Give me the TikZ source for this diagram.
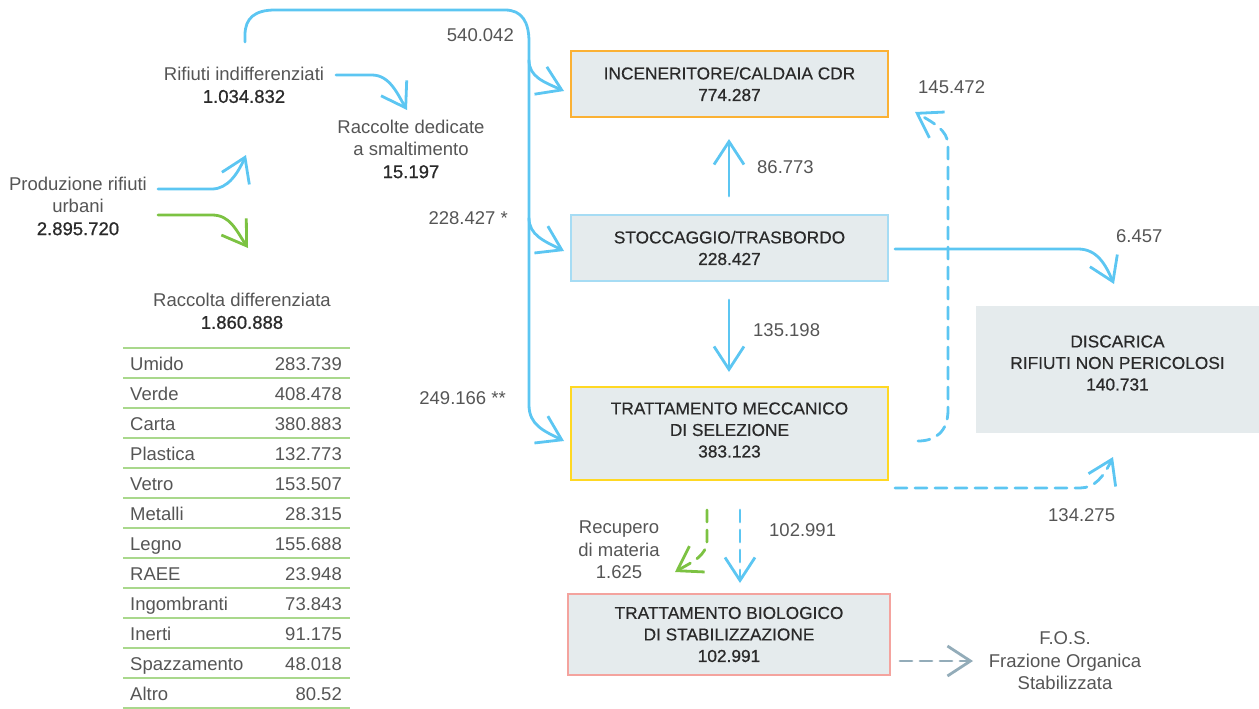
\documentclass[tikz,border=0pt]{standalone}
\usepackage{fontspec}
\setmainfont{Liberation Sans}
\newfontfamily\medfont[FakeBold=0.8]{Liberation Sans}
\newfontfamily\boxfont[FakeBold=0.35]{Liberation Sans}
\usetikzlibrary{arrows.meta}
\definecolor{fblue}{HTML}{5CC6F2}
\definecolor{fgreen}{HTML}{7CC242}
\definecolor{tgreen}{HTML}{A9D88C}
\definecolor{boxfill}{HTML}{E5EBED}
\definecolor{corange}{HTML}{FBB134}
\definecolor{clblue}{HTML}{A6DCF4}
\definecolor{cyellow}{HTML}{FFD823}
\definecolor{cpink}{HTML}{F4A39E}
\definecolor{cfos}{HTML}{93ACB9}
\definecolor{lbl}{HTML}{555555}
\definecolor{num}{HTML}{2A2A2A}
\newcommand{\numv}[1]{{\medfont\color{num}#1}}
\tikzset{
  lab/.style={inner sep=0pt, align=center, text=lbl, font=\fontsize{18.5}{22.5}\selectfont},
  numlab/.style={inner sep=0pt, text=lbl, font=\fontsize{18.5}{22.5}\selectfont},
  tabtxt/.style={inner sep=0pt, text=lbl, font=\fontsize{18.5}{22.5}\selectfont},
  flowbox/.style={fill=boxfill, line width=2.4pt, inner sep=0pt, align=center, text=num,
    font=\boxfont\fontsize{17.3}{21.5}\selectfont},
  boxtext/.style={inner sep=0pt, align=center, text=num, font=\boxfont\fontsize{17.3}{21.5}\selectfont},
  flow/.style={line width=2.8pt, line cap=round},
  arrowtip/.style={-{Straight Barb[length=23pt,width=30pt]}},
  dashflow/.style={dash pattern=on 12pt off 8pt},
  tabline/.style={draw=tgreen, line width=1.6pt}
}
\begin{document}
\begin{tikzpicture}[x=1pt,y=-1pt]
\useasboundingbox (0,0) rectangle (1259,709);

% boxes
\node[flowbox, draw=corange, minimum width=317pt, minimum height=66pt] (inc) at (729.5,84) {INCENERITORE/CALDAIA CDR\\\numv{774.287}};
\node[flowbox, draw=clblue, minimum width=317pt, minimum height=66pt] (sto) at (729.5,248) {STOCCAGGIO/TRASBORDO\\\numv{228.427}};
\node[flowbox, draw=cyellow, minimum width=317pt, minimum height=93pt] (tmb) at (729.5,433.5) {};
\node[boxtext] (tmbtxt) at (729.5,430) {TRATTAMENTO MECCANICO\\DI SELEZIONE\\\numv{383.123}};
\node[flowbox, draw=cpink, minimum width=322pt, minimum height=81pt] (tbs) at (729,634.5) {TRATTAMENTO BIOLOGICO\\DI STABILIZZAZIONE\\\numv{102.991}};
\node[flowbox, draw=none, minimum width=283pt, minimum height=127pt] (dis) at (1117.5,369.5) {};
\node[boxtext] (distxt) at (1117.5,363) {DISCARICA\\RIFIUTI NON PERICOLOSI\\\numv{140.731}};

% text labels
\node[lab] (prod) at (78,206) {Produzione rifiuti\\urbani\\\numv{2.895.720}};
\node[lab] (rind) at (244,85) {Rifiuti indifferenziati\\\numv{1.034.832}};
\node[lab] (rded) at (411,149) {Raccolte dedicate\\a smaltimento\\\numv{15.197}};
\node[lab] (rdiff) at (242,311) {Raccolta differenziata\\\numv{1.860.888}};
\node[lab] (rec) at (619,550) {Recupero\\di materia\\1.625};
\node[lab] (fos) at (1065,661) {F.O.S.\\Frazione Organica\\Stabilizzata};

\node[numlab, anchor=east] (n540) at (514,35) {540.042};
\node[numlab, anchor=east] (n228) at (508,218) {228.427 *};
\node[numlab, anchor=east] (n249) at (506,398) {249.166 **};
\node[numlab, anchor=west] (n86) at (757,167) {86.773};
\node[numlab, anchor=west] (n145) at (918,87) {145.472};
\node[numlab, anchor=west] (n135) at (753,330) {135.198};
\node[numlab, anchor=west] (n6) at (1116,236) {6.457};
\node[numlab, anchor=west] (n134) at (1048,515) {134.275};
\node[numlab, anchor=west] (n102) at (769,530) {102.991};

% table
\foreach \k in {0,...,12} \draw[tabline] (123,{347.7+30*\k}) -- (350,{347.7+30*\k});
\foreach \lab/\val [count=\i] in {Umido/283.739, Verde/408.478, Carta/380.883, Plastica/132.773,
  Vetro/153.507, Metalli/28.315, Legno/155.688, RAEE/23.948, Ingombranti/73.843,
  Inerti/91.175, Spazzamento/48.018, Altro/80.52} {
  \node[tabtxt, anchor=base west] (rl\i) at (130,{340+30*\i}) {\lab};
  \node[tabtxt, anchor=base east] (rv\i) at (342,{340+30*\i}) {\val};
}

% coordinates of connector ends
\coordinate (top0) at (245,42);
\coordinate (b1) at (529,60);
\coordinate (b2) at (529,218);
\coordinate (e1) at (564,91);
\coordinate (e2) at (564,251);
\coordinate (e3) at (564,441);
\coordinate (pb0) at (158,189);
\coordinate (pb1) at (246,155);
\coordinate (pg0) at (158,215);
\coordinate (pg1) at (248,248);
\coordinate (ri0) at (336,75);
\coordinate (ri1) at (407,110);
\coordinate (s86a) at (729,196);
\coordinate (s86b) at (729,139);
\coordinate (s135a) at (729,300);
\coordinate (s135b) at (729,372);
\coordinate (s6a) at (895,249);
\coordinate (s6b) at (1114,284);
\coordinate (d145a) at (918,441);
\coordinate (d145b) at (915,112);
\coordinate (d134a) at (895,488);
\coordinate (d134b) at (1113,457);
\coordinate (d102a) at (740,510);
\coordinate (d102b) at (740,583);
\coordinate (dreca) at (707,510);
\coordinate (drecb) at (675,572);
\coordinate (dfosa) at (900,661);
\coordinate (dfosb) at (973,661);

% solid flows
\draw[flow, draw=fblue, arrowtip] (top0) -- (245,35) .. controls (245,18) and (255,10) .. (275,10)
  -- (505,10) .. controls (522,10) and (529,22) .. (529,42) -- (529,405)
  .. controls (529,425) and (544,431) .. (e3);
\draw[flow, draw=fblue, arrowtip] (b1) .. controls (529,77) and (544,82) .. (e1);
\draw[flow, draw=fblue, arrowtip] (b2) .. controls (529,235) and (544,241) .. (e2);
\draw[flow, draw=fblue, arrowtip] (pb0) -- (212,189) .. controls (228,189) and (238,173) .. (pb1);
\draw[flow, draw=fgreen, arrowtip] (pg0) -- (212,215) .. controls (230,215) and (236,230) .. (pg1);
\draw[flow, draw=fblue, arrowtip] (ri0) -- (372,75) .. controls (390,75) and (398,95) .. (ri1);
\draw[flow, draw=fblue, arrowtip] (s86a) -- (s86b);
\draw[flow, draw=fblue, arrowtip] (s135a) -- (s135b);
\draw[flow, draw=fblue, arrowtip] (s6a) -- (1078,249) .. controls (1098,249) and (1106,266) .. (s6b);

% dashed flows
\draw[flow, dashflow, draw=fblue, arrowtip] (d145a) .. controls (935,441) and (948,432) .. (948,410)
  -- (948,145) .. controls (948,130) and (932,122) .. (d145b);
\draw[flow, dashflow, draw=fblue, arrowtip] (d134a) -- (1080,488) .. controls (1095,488) and (1104,476) .. (d134b);
\draw[flow, dashflow, draw=fblue, arrowtip] (d102a) -- (d102b);
\draw[flow, dashflow, draw=fgreen, arrowtip] (dreca) -- (707,540) .. controls (707,556) and (692,562) .. (drecb);
\draw[flow, dashflow, draw=cfos, arrowtip] (dfosa) -- (dfosb);
\end{tikzpicture}
\end{document}
